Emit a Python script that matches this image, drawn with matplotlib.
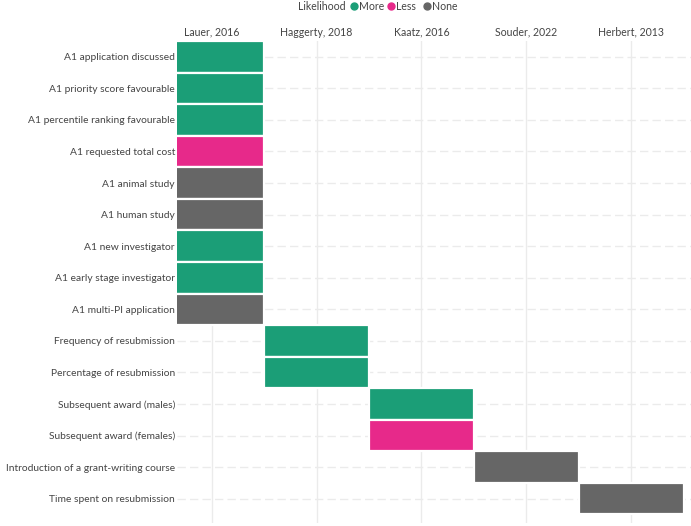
import matplotlib
matplotlib.use('Agg')
import matplotlib.pyplot as plt
from matplotlib.lines import Line2D

plt.rcParams['font.family'] = ['Lato', 'DejaVu Sans']

STUDIES = ['Lauer, 2016', 'Haggerty, 2018', 'Kaatz, 2016', 'Souder, 2022', 'Herbert, 2013']

OUTCOMES = [
    'A1 application discussed',
    'A1 priority score favourable',
    'A1 percentile ranking favourable',
    'A1 requested total cost',
    'A1 animal study',
    'A1 human study',
    'A1 new investigator',
    'A1 early stage investigator',
    'A1 multi-PI application',
    'Frequency of resubmission',
    'Percentage of resubmission',
    'Subsequent award (males)',
    'Subsequent award (females)',
    'Introduction of a grant-writing course',
    'Time spent on resubmission',
]
OUTCOME_STUDY = ['Lauer, 2016'] * 9 + ['Haggerty, 2018'] * 2 + ['Kaatz, 2016'] * 2 + \
                ['Souder, 2022', 'Herbert, 2013']
LIKELIHOOD = ['More', 'More', 'More', 'Less', 'None', 'None', 'More', 'More', 'None',
              'More', 'More', 'More', 'Less', 'None', 'None']

COLORS = {'More': '#1b9e77', 'Less': '#e7298a', 'None': '#666666'}
TXT = '#444444'
GRID = '#ebebeb'
FS = 7.6

W, H = 691, 526
fig = plt.figure(figsize=(W / 100, H / 100), dpi=100)
ax = fig.add_axes([177 / W, 1 - 523 / H, 1 - 177 / W, (523 - 41) / H])

rows = list(range(len(OUTCOMES)))
cols = [STUDIES.index(s) for s in OUTCOME_STUDY]

# grid lines at category centres
for r in rows:
    ax.axhline(r, color=GRID, lw=1, ls=(0, (6, 3)), zorder=0)
for c in range(len(STUDIES)):
    ax.axvline(c, color=GRID, lw=1, zorder=0)

ax.barh(rows, width=1, left=[c - 0.5 for c in cols], height=1,
        color=[COLORS[l] for l in LIKELIHOOD], edgecolor='white', lw=1.6, zorder=2)

ax.set_xlim(-0.33, 4.57)
ax.set_ylim(14.77, -0.5)
ax.set_xticks(range(len(STUDIES)))
ax.set_xticklabels(STUDIES)
ax.xaxis.tick_top()
ax.set_yticks(rows)
ax.set_yticklabels(OUTCOMES)
ax.tick_params(axis='both', length=0, labelsize=FS, colors=TXT)
ax.tick_params(axis='y', labelsize=7.4, pad=1.5)
ax.tick_params(axis='x', pad=2.5)
for s in ax.spines.values():
    s.set_visible(False)

# legend, laid out by hand in pixel positions
ly = 1 - 6 / H
fig.text(298 / W, ly, 'Likelihood', fontsize=FS, color=TXT, va='center', ha='left')
for (name, col), mx in zip(COLORS.items(), [354, 391, 427]):
    fig.add_artist(Line2D([mx / W], [ly], marker='o', ls='', color=col, markersize=5,
                          transform=fig.transFigure))
    fig.text((mx + 5) / W, ly, name, fontsize=FS, color=TXT, va='center', ha='left')

fig.savefig('out.png', dpi=100, facecolor='white')
